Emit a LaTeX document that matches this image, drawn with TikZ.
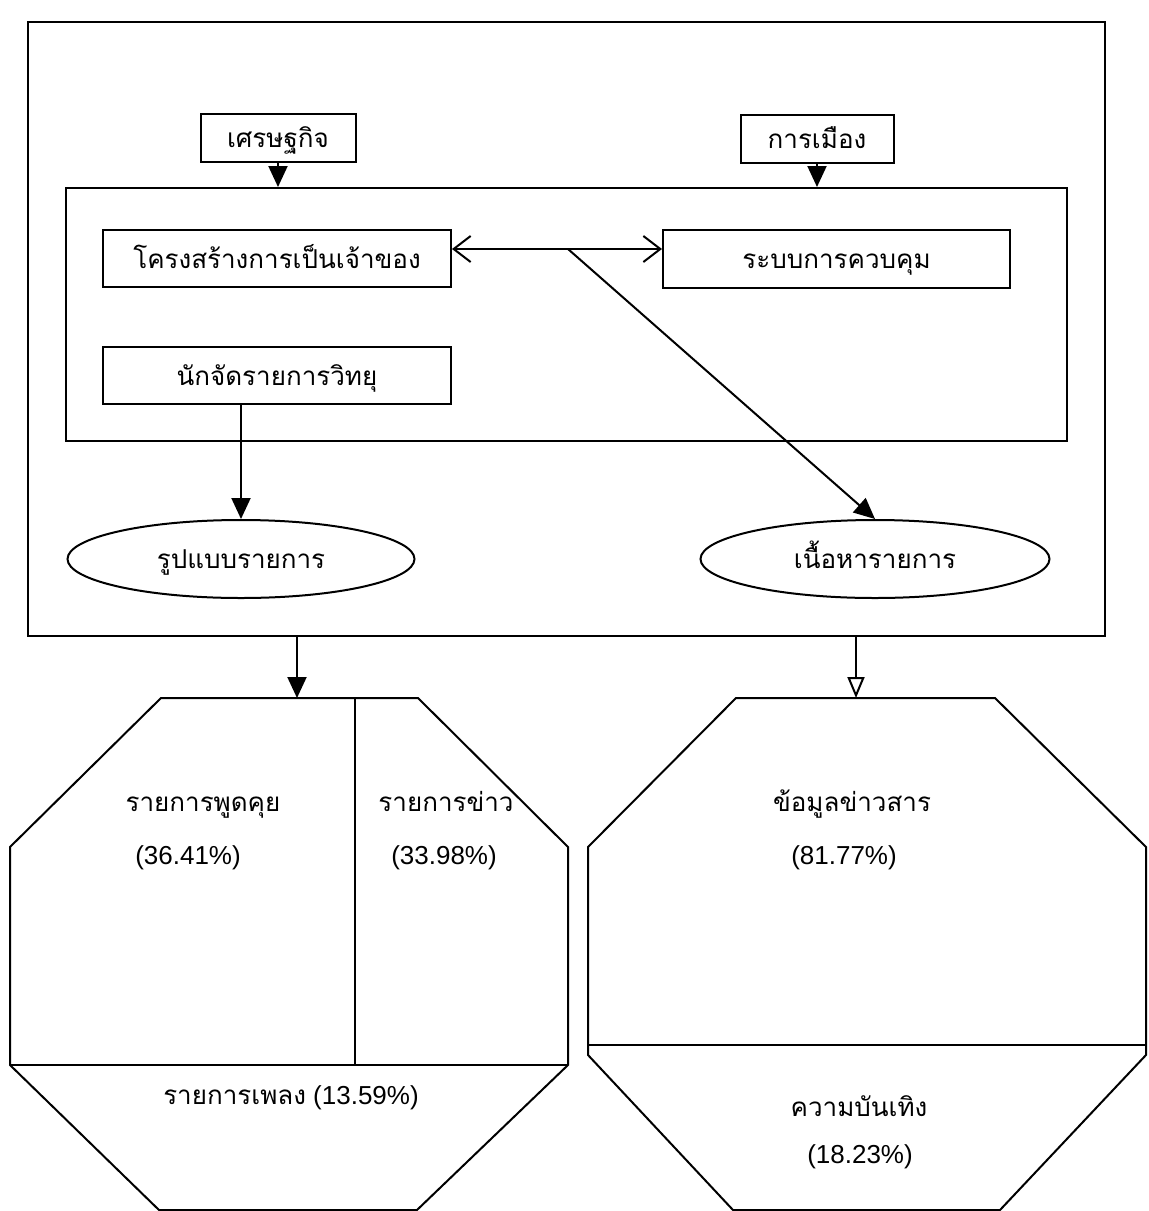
\documentclass[tikz,border=0pt]{standalone}
\usepackage{fontspec}
\setmainfont{Liberation Sans}
\newfontfamily\thai[Script=Thai]{Loma}
\usetikzlibrary{arrows.meta,shapes.geometric}
\tikzset{
  ln/.style={line width=2pt},
  thtext/.style={font=\thai\fontsize{26}{30}\selectfont, text height=21pt, text depth=2pt},
  boxnode/.style={draw, ln, rectangle, inner sep=0pt, thtext},
  ellnode/.style={draw, ln, ellipse, inner sep=0pt, thtext},
  lbl/.style={inner sep=0pt, font=\fontsize{26}{30}\selectfont},
  thlbl/.style={inner sep=0pt, thtext},
  tri/.style={ln, -{Triangle[length=21pt,width=19pt]}},
  otri/.style={ln, -{Triangle[open,length=21pt,width=17pt]}},
  barb/.style={ln, {Straight Barb[length=17pt,width=26pt]}-{Straight Barb[length=17pt,width=26pt]}}
}
\begin{document}
\begin{tikzpicture}[x=1pt,y=-1pt]
\useasboundingbox (0,0) rectangle (1149,1211);
% outer frame
\node[draw, ln, minimum width=1077pt, minimum height=614pt, inner sep=0pt] (outer) at (566.5,329) {};
% top boxes
\node[boxnode, minimum width=155pt, minimum height=48pt] (econ) at (278,138) {เศรษฐกิจ};
\node[boxnode, minimum width=153pt, minimum height=48pt] (pol) at (817,139) {การเมือง};
% inner frame
\node[draw, ln, minimum width=1001pt, minimum height=253pt, inner sep=0pt] (inner) at (566.5,314.5) {};
\draw[tri] (econ.south) -- (econ.south |- inner.north);
\draw[tri] (pol.south) -- (pol.south |- inner.north);
% inner boxes
\node[boxnode, minimum width=348pt, minimum height=57pt] (own) at (277,258.5) {โครงสร้างการเป็นเจ้าของ};
\node[boxnode, minimum width=347pt, minimum height=58pt] (ctrl) at (836.5,259) {ระบบการควบคุม};
\node[boxnode, minimum width=348pt, minimum height=57pt] (dj) at (277,375.5) {นักจัดรายการวิทยุ};
% ellipses
\node[ellnode, minimum width=347pt, minimum height=78pt] (form) at (241,559) {รูปแบบรายการ};
\node[ellnode, minimum width=349pt, minimum height=78pt] (content) at (875,559) {เนื้อหารายการ};
% connectors
\coordinate (m) at (568,249);
\draw[barb] (own.east |- m) -- (ctrl.west |- m);
\draw[tri] (m) -- (content.north);
\draw[tri] (dj.south -| form.north) -- (form.north);
% octagon tops
\coordinate (LT) at (297,698);
\coordinate (RT) at (856,698);
\draw[tri] (outer.south -| LT) -- (LT);
\draw[otri] (outer.south -| RT) -- (RT);
% left octagon
\draw[ln] (161,698) -- (418,698) -- (568,847) -- (568,1065) -- (417,1210) -- (159,1210) -- (10,1065) -- (10,847) -- cycle;
\draw[ln] (355,698) -- (355,1065);
\draw[ln] (10,1065) -- (568,1065);
\node[thlbl] (talk) at (203,802) {รายการพูดคุย};
\node[lbl] (talkp) at (188,858) {(36.41\%)};
\node[thlbl] (news) at (446,802) {รายการข่าว};
\node[lbl] (newsp) at (444,858) {(33.98\%)};
\node[lbl] (music) at (291,1098) {{\thai รายการเพลง} (13.59\%)};
% right octagon
\draw[ln] (736,698) -- (995,698) -- (1146,847) -- (1146,1055) -- (1000,1210) -- (733,1210) -- (588,1055) -- (588,847) -- cycle;
\draw[ln] (588,1045) -- (1146,1045);
\node[thlbl] (info) at (852,802) {ข้อมูลข่าวสาร};
\node[lbl] (infop) at (844,858) {(81.77\%)};
\node[thlbl] (ent) at (859,1107) {ความบันเทิง};
\node[lbl] (entp) at (860,1157) {(18.23\%)};
\end{tikzpicture}
\end{document}
